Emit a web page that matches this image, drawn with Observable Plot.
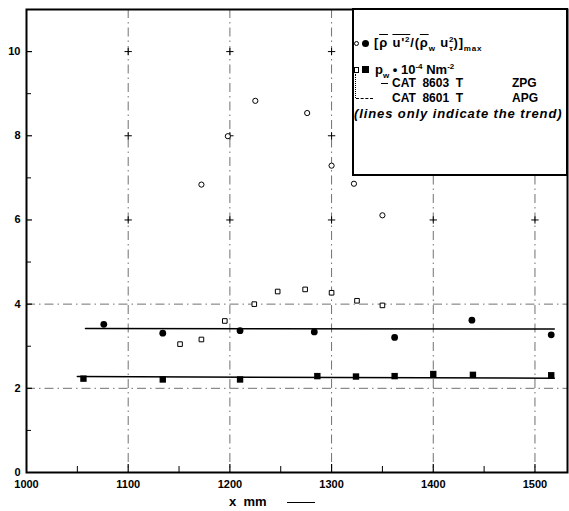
<!DOCTYPE html>
<html>
<head>
<meta charset="utf-8">
<script src="https://cdn.jsdelivr.net/npm/d3@7"></script>
<script src="https://cdn.jsdelivr.net/npm/@observablehq/plot@0.6"></script>
<style>
  html, body { margin: 0; padding: 0; background: #fff; }
  #wrap { position: relative; width: 569px; height: 511px; font-family: "Liberation Sans", Arial, sans-serif; color: #000; }
  .abs { position: absolute; white-space: nowrap; line-height: 12px; font-size: 13px; font-weight: bold; }
  .sym { position: absolute; box-sizing: border-box; }
  .ov { text-decoration: overline; }
  sub, sup { font-size: 8px; line-height: 0; }
</style>
</head>
<body>
<div id="wrap">
  <div id="chart"></div>
</div>
<script>
// ---- data ----
// ZPG (CAT 8603 T): filled circles = [rho u'^2/(rho_w u_tau^2)]max
const zpgRatioX = [1076, 1134, 1210, 1283, 1362, 1438, 1516];
const zpgRatioY = [3.52, 3.31, 3.37, 3.34, 3.21, 3.62, 3.27];
// ZPG: filled squares = p_w * 1e-4 N/m^2
const zpgPwX = [1056, 1134, 1210, 1286, 1324, 1362, 1400, 1439, 1516];
const zpgPwY = [2.23, 2.21, 2.21, 2.29, 2.28, 2.29, 2.34, 2.32, 2.31];
// APG (CAT 8601 T): open circles = ratio
const apgRatioX = [1172, 1198, 1225, 1276, 1300, 1322, 1350];
const apgRatioY = [6.84, 7.99, 8.83, 8.54, 7.29, 6.86, 6.11];
// APG: open squares = p_w
const apgPwX = [1151, 1172, 1195, 1224, 1247, 1274, 1300, 1325, 1350];
const apgPwY = [3.05, 3.16, 3.60, 4.00, 4.30, 4.35, 4.27, 4.08, 3.97];
// trend lines
const trendRatioX = [1058, 1519];
const trendRatioY = [3.42, 3.41];
const trendPwX = [1050, 1519];
const trendPwY = [2.28, 2.24];
// axes
const xTicks = [1000, 1100, 1200, 1300, 1400, 1500];
const xMinor = [1050, 1150, 1250, 1350, 1450];
const yTicks = [0, 2, 4, 6, 8, 10];
const yMinor = [1, 3, 5, 7, 9];
const gridX = [1100, 1200, 1300, 1400, 1500];
const gridY = [2, 4];
const crossY = [6, 8, 10];

const toPts = (xs, ys) => xs.map((x, i) => ({x, y: ys[i]}));
const crosses = [];
for (const yy of crossY) for (const xx of gridX) crosses.push({x: xx, y: yy});

const dash = "9,4,1.5,4";
const chart = Plot.plot({
  width: 569,
  height: 511,
  marginTop: 9,
  marginBottom: 39,
  marginLeft: 26,
  marginRight: 2,
  style: {fontFamily: "Liberation Sans, Arial, sans-serif", fontSize: "11px", fontWeight: "bold", background: "#fff", color: "#000"},
  x: {domain: [1000, 1532], ticks: xTicks, tickSize: 0, tickPadding: 8, label: null, tickFormat: d => String(d)},
  y: {domain: [0, 11], ticks: yTicks, tickSize: 0, tickPadding: 6, label: null, tickFormat: d => String(d)},
  marks: [
    Plot.ruleX(gridX, {stroke: "#333", strokeWidth: 0.7, strokeDasharray: dash}),
    Plot.ruleY(gridY, {stroke: "#333", strokeWidth: 0.7, strokeDasharray: dash}),
    Plot.dot(crosses, {x: "x", y: "y", symbol: "plus", r: 2.5, stroke: "#000", strokeWidth: 1}),
    Plot.tickX(xMinor, {x: d => d, insetTop: 457, stroke: "#000", strokeWidth: 1}),
    Plot.tickX(gridX, {x: d => d, insetTop: 455, stroke: "#000", strokeWidth: 1.2}),
    Plot.tickY(yMinor, {y: d => d, insetRight: 536, stroke: "#000", strokeWidth: 1}),
    Plot.tickY(yTicks.slice(1), {y: d => d, insetRight: 535, stroke: "#000", strokeWidth: 1.2}),
    Plot.line(toPts(trendRatioX, trendRatioY), {x: "x", y: "y", stroke: "#000", strokeWidth: 1.5}),
    Plot.line(toPts(trendPwX, trendPwY), {x: "x", y: "y", stroke: "#000", strokeWidth: 1.5}),
    Plot.dot(toPts(apgRatioX, apgRatioY), {x: "x", y: "y", r: 2.6, stroke: "#000", fill: "#fff", strokeWidth: 1}),
    Plot.dot(toPts(apgPwX, apgPwY), {x: "x", y: "y", symbol: "square", r: 2.6, stroke: "#000", fill: "#fff", strokeWidth: 1}),
    Plot.dot(toPts(zpgRatioX, zpgRatioY), {x: "x", y: "y", r: 3.4, fill: "#000", stroke: "none"}),
    Plot.dot(toPts(zpgPwX, zpgPwY), {x: "x", y: "y", symbol: "square", r: 3.6, fill: "#000", stroke: "none"}),
    Plot.frame({stroke: "#000", strokeWidth: 2})
  ]
});
document.getElementById("chart").appendChild(chart);

// ---- legend + axis title overlay ----
const wrap = document.getElementById("wrap");
function add(html, style, cls = "abs") {
  const d = document.createElement("div");
  d.className = cls;
  d.innerHTML = html;
  Object.assign(d.style, style);
  wrap.appendChild(d);
  return d;
}
// legend box
add("", {left: "352px", top: "8px", width: "216px", height: "168px", background: "#fff",
  border: "2px solid #000", boxSizing: "border-box"}, "sym");
// row 1 symbols
add("", {left: "354px", top: "41px", width: "5px", height: "5px", border: "1px solid #000", borderRadius: "50%"}, "sym");
add("", {left: "362px", top: "40px", width: "7px", height: "7px", background: "#000", borderRadius: "50%"}, "sym");
add('[<span class="ov">ρ</span> <span class="ov">u\'<sup>2</sup></span>/(<span class="ov">ρ</span><sub>w</sub> u<sup>2</sup><sub style="margin-left:-5px">τ</sub>)]<sub>max</sub>',
  {left: "374px", top: "37px", letterSpacing: "0.8px"});
// row 2 symbols
add("", {left: "354px", top: "67px", width: "5px", height: "6px", border: "1px solid #000"}, "sym");
add("", {left: "362px", top: "66px", width: "7px", height: "7px", background: "#000"}, "sym");
add('p<sub>w</sub> • 10<sup>-4</sup> Nm<sup>-2</sup>', {left: "375px", top: "64px"});
// vertical bar
add("", {left: "355px", top: "74px", width: "0px", height: "24px", borderLeft: "1px dotted #000"}, "sym");
// row 3
add("", {left: "381px", top: "83px", width: "7px", height: "0px", borderTop: "1px solid #000"}, "sym");
add('CAT&nbsp; 8603&nbsp; T', {left: "392px", top: "78px", lineHeight: "10px", fontSize: "12px"});
add('ZPG', {left: "512px", top: "78px", lineHeight: "10px", fontSize: "12px"});
// row 4
add("", {left: "356px", top: "98px", width: "17px", height: "0px", borderTop: "1px dashed #000"}, "sym");
add('CAT&nbsp; 8601&nbsp; T', {left: "392px", top: "93px", lineHeight: "10px", fontSize: "12px"});
add('APG', {left: "512px", top: "93px", lineHeight: "10px", fontSize: "12px"});
// row 5
add('(lines only indicate the trend)', {left: "354px", top: "108px", fontStyle: "italic", letterSpacing: "0.9px"});
// x axis title
add('x&nbsp; mm', {left: "229px", top: "496px"});
add("", {left: "287px", top: "502px", width: "28px", height: "0px", borderTop: "1.5px solid #000"}, "sym");
</script>
</body>
</html>
